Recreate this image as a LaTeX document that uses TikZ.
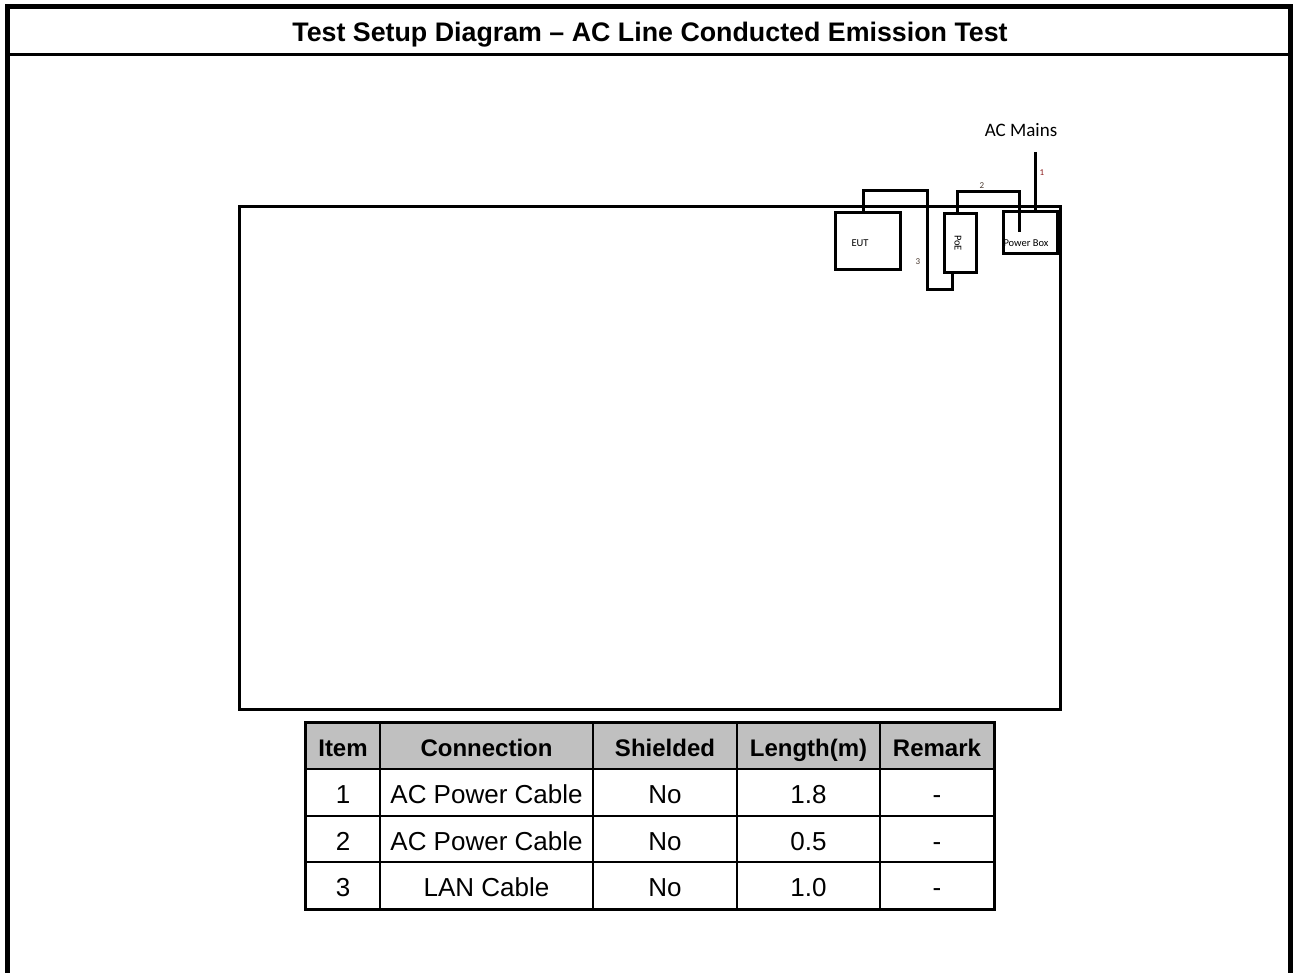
\documentclass[tikz,border=0pt]{standalone}
\usepackage{fontspec}
\setmainfont{Liberation Sans}
\newfontfamily\calibri{Carlito}
\usepackage{tikz}
\usetikzlibrary{positioning}
\definecolor{headgray}{HTML}{C0C0C0}
\definecolor{numred}{HTML}{8B1A1A}
\definecolor{numdark}{HTML}{4A3A30}
\tikzstyle{device}=[draw,line width=3pt,inner sep=0pt]
\tikzstyle{cable} = [draw,line width=3pt]
\tikzstyle{tag} = [font=\calibri\fontsize{10.5}{12}\selectfont,inner sep=0pt]
\tikzstyle{num} = [font=\calibri\fontsize{9}{10}\selectfont,inner sep=0pt]
\tikzstyle{cell} = [draw,line width=2pt,inner sep=0pt,text height=24pt,text depth=2pt,
                    font=\fontsize{26}{30}\selectfont]
\tikzstyle{head} = [cell,fill=headgray,text height=22.5pt,text depth=2pt,
                    font=\bfseries\fontsize{24}{28}\selectfont]

\begin{document}
\begin{tikzpicture}[x=1pt,y=-1pt]
    \useasboundingbox (0,0) rectangle (1295,973);
    % frame and title
    \draw[line width=5pt] (7.5,990) -- (7.5,6.5) -- (1290.5,6.5) -- (1290.5,990);
    \draw[line width=3pt] (7.5,54.5) -- (1290.5,54.5);
    \node[font=\bfseries\fontsize{26.8}{30}\selectfont] (title) at (650,34.5) {Test Setup Diagram -- AC Line Conducted Emission Test};

    % table top and the devices on it
    \node[device, minimum width=821, minimum height=502] (bench) at (649.5,458) {};
    \foreach \pos/\name/\w/\h in {{(867.5,241.5)/eut/65/57}, {(960,243.5)/poe/32/59},
                                  {(1030,233)/pbox/54/42}}
        \node[device, minimum width=\w, minimum height=\h] (\name) at \pos {};
    \node[tag] (eut-txt) at (860,243) {EUT};
    \node[tag, rotate=-90] (poe-txt) at (958,243) {PoE};
    \node[tag] (pbox-txt) at (1026,243) {Power Box};
    \node[font=\calibri\fontsize{19}{22}\selectfont] (mains) at (1021,130) {AC Mains};

    % cables
    \coordinate (mains-end) at (1035,152);
    \coordinate (c2-top) at (1019,192);
    \coordinate (c2-end) at (1019,232);
    \coordinate (c3-top) at (927,191);
    \coordinate (c3-low) at (952,290);
    \path[cable] (mains-end) -- (mains-end |- pbox.north);
    \path[cable] ([xshift=-3pt]poe.north) |- (c2-top) -- (c2-end);
    \path[cable] ([xshift=-4.5pt]eut.north) |- (c3-top) |- (c3-low) -- ([xshift=-8pt]poe.south);
    \node[num, text=numred] (n1) at (1042,173) {1};
    \node[num, text=numdark] (n2) at (982,186) {2};
    \node[num, text=numdark] (n3) at (918,262) {3};

    % cable list
    \foreach \x/\w/\txt [count=\c] in {343/74/Item, 486.5/213/Connection, 665/144/Shielded,
                                       808.5/143/Length(m), 937/114/Remark}
        \node[head, minimum width=\w, minimum height=46] (h\c) at (\x,746) {\txt};
    \foreach \y/\r/\conn/\len in {792.5/1/AC Power Cable/1.8, 839/2/AC Power Cable/0.5,
                                  885.5/3/LAN Cable/1.0} {
        \node[cell, minimum width=74, minimum height=46.5] (r\r-1) at (343,\y) {\r};
        \node[cell, minimum width=213, minimum height=46.5] (r\r-2) at (486.5,\y) {\conn};
        \node[cell, minimum width=144, minimum height=46.5] (r\r-3) at (665,\y) {No};
        \node[cell, minimum width=143, minimum height=46.5] (r\r-4) at (808.5,\y) {\len};
        \node[cell, minimum width=114, minimum height=46.5] (r\r-5) at (937,\y) {-};
    }
    \draw[line width=2.5pt] (h1.north west) rectangle (r3-5.south east);
\end{tikzpicture}
\end{document}
